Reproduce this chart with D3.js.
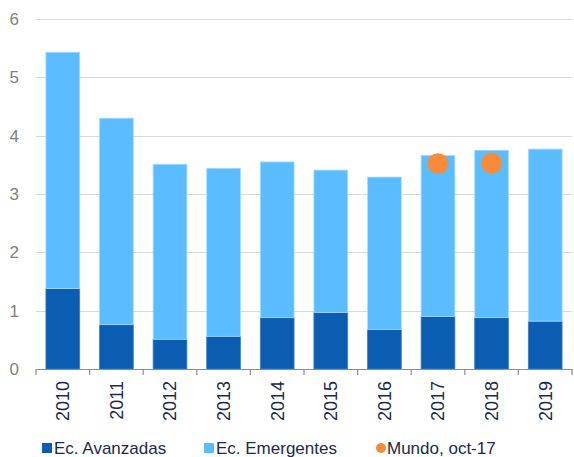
<!DOCTYPE html>
<html>
<head>
<meta charset="utf-8">
<script src="https://cdn.jsdelivr.net/npm/d3@7"></script>
<style>
  body { margin: 0; background: #fff; }
  svg { display: block; font-family: "Liberation Sans", Arial, sans-serif; }
</style>
</head>
<body>
<svg id="chart" width="574" height="457"></svg>
<script>
// datos
const years = ['2010', '2011', '2012', '2013', '2014', '2015', '2016', '2017', '2018', '2019'];
const avanzadas = [1.38, 0.76, 0.51, 0.56, 0.88, 0.97, 0.68, 0.90, 0.88, 0.82];
const totales = [5.43, 4.30, 3.51, 3.44, 3.55, 3.41, 3.29, 3.66, 3.75, 3.77];
const emergentes = totales.map((t, i) => +(t - avanzadas[i]).toFixed(2));
const mundoYears = ['2017', '2018'];
const mundo = [3.52, 3.53];
const yTicks = [0, 1, 2, 3, 4, 5, 6];

const W = 574, H = 457;
const margin = {top: 19, right: 2, bottom: 88, left: 36};

const svg = d3.select('#chart');

const x = d3.scaleBand().domain(years).range([margin.left, W - margin.right]).paddingInner(0.37).paddingOuter(0.185);
const y = d3.scaleLinear().domain([0, 6]).range([H - margin.bottom, margin.top]);

// rejilla
svg.append('g')
  .selectAll('line')
  .data(yTicks.filter(d => d > 0))
  .join('line')
  .attr('x1', margin.left).attr('x2', W - margin.right)
  .attr('y1', d => Math.round(y(d)) + 0.5).attr('y2', d => Math.round(y(d)) + 0.5)
  .attr('stroke', '#d9d9d9').attr('stroke-width', 1.2);

// etiquetas eje Y
svg.append('g')
  .selectAll('text')
  .data(yTicks)
  .join('text')
  .attr('x', 19)
  .attr('y', d => y(d))
  .attr('dy', '0.36em')
  .attr('text-anchor', 'end')
  .attr('font-size', 17)
  .attr('fill', '#7f7f7f')
  .text(d => d);

// barras apiladas
const rows = years.map((yr, i) => ({year: yr, av: avanzadas[i], em: emergentes[i]}));
const series = d3.stack().keys(['av', 'em'])(rows);
const colors = {av: '#0a5db1', em: '#5bbcff'};
const strokes = {av: '#3f7fc2', em: '#a6dbff'};

svg.append('g')
  .selectAll('g')
  .data(series)
  .join('g')
  .attr('fill', s => colors[s.key])
  .attr('stroke', s => strokes[s.key])
  .attr('stroke-width', 0.8)
  .selectAll('rect')
  .data(s => s)
  .join('rect')
  .attr('x', d => x(d.data.year))
  .attr('width', x.bandwidth())
  .attr('y', d => y(d[1]))
  .attr('height', d => y(d[0]) - y(d[1]));

// eje X
const xAxis = svg.append('g')
  .attr('transform', `translate(0,${y(0)})`);
xAxis.append('line')
  .attr('x1', margin.left).attr('x2', W - margin.right)
  .attr('y1', 0.5).attr('y2', 0.5)
  .attr('stroke', '#8c8c8c').attr('stroke-width', 1.2);
const step = x.step();
const boundaries = d3.range(years.length + 1).map(i => margin.left + (W - margin.right - margin.left) * i / years.length);
xAxis.selectAll('.tk')
  .data(boundaries)
  .join('line')
  .attr('class', 'tk')
  .attr('x1', d => d).attr('x2', d => d)
  .attr('y1', 0).attr('y2', 6)
  .attr('stroke', '#8c8c8c').attr('stroke-width', 1.2);
xAxis.selectAll('text')
  .data(years)
  .join('text')
  .attr('transform', d => `translate(${x(d) + x.bandwidth() / 2},12) rotate(-90)`)
  .attr('text-anchor', 'end')
  .attr('dy', '0.36em')
  .attr('font-size', 18)
  .attr('fill', '#1b2a4e')
  .text(d => d);

// puntos Mundo
svg.append('g')
  .selectAll('circle')
  .data(mundoYears.map((yr, i) => ({year: yr, v: mundo[i]})))
  .join('circle')
  .attr('cx', d => x(d.year) + x.bandwidth() / 2)
  .attr('cy', d => y(d.v))
  .attr('r', 10.5)
  .attr('fill', '#f68b3a');

// leyenda
const legend = svg.append('g').attr('font-size', 17).attr('fill', '#1b2a4e');
const ly = 448;
legend.append('rect').attr('x', 42).attr('y', ly - 5).attr('width', 10).attr('height', 10).attr('fill', colors.av);
legend.append('text').attr('x', 54).attr('y', ly).attr('dy', '0.36em').text('Ec. Avanzadas');
legend.append('rect').attr('x', 204).attr('y', ly - 5).attr('width', 10).attr('height', 10).attr('fill', colors.em);
legend.append('text').attr('x', 216).attr('y', ly).attr('dy', '0.36em').text('Ec. Emergentes');
legend.append('circle').attr('cx', 381).attr('cy', ly).attr('r', 5).attr('fill', '#f68b3a');
legend.append('text').attr('x', 387).attr('y', ly).attr('dy', '0.36em').text('Mundo, oct-17');
</script>
</body>
</html>
